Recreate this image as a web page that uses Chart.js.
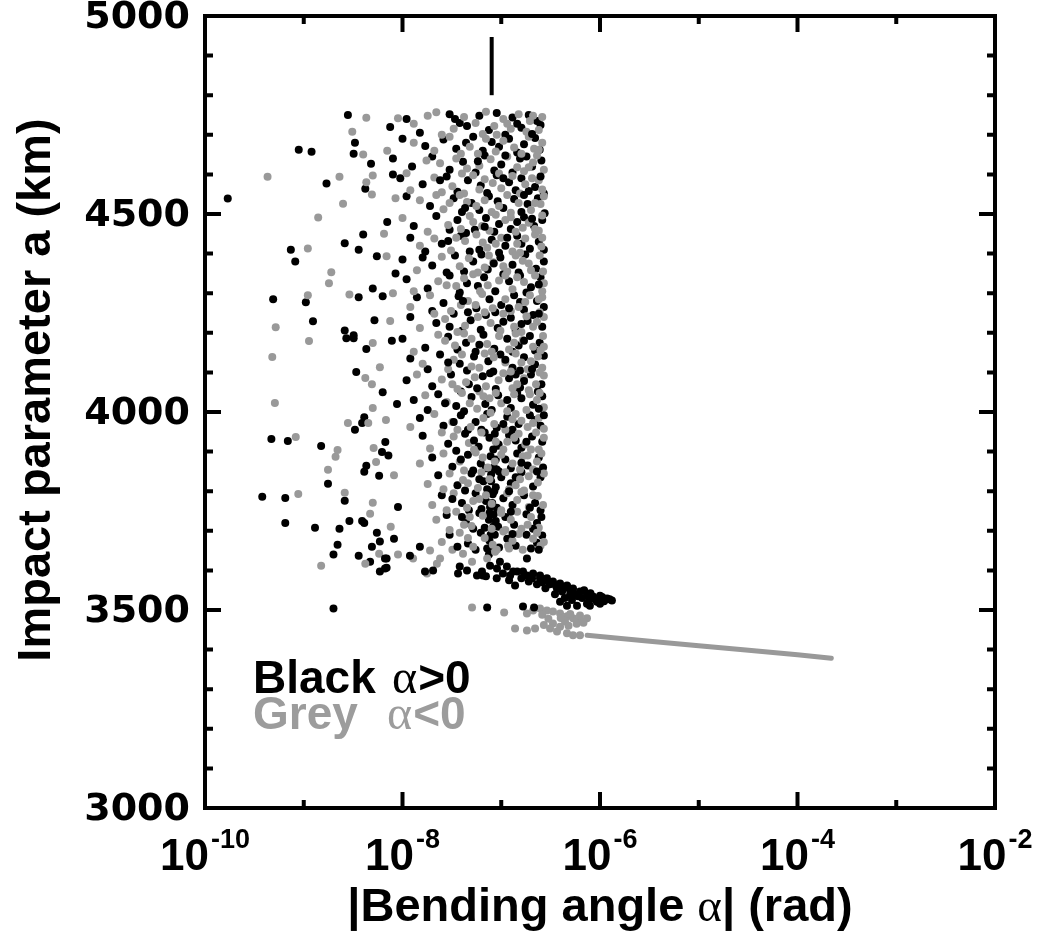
<!DOCTYPE html>
<html>
<head>
<meta charset="utf-8">
<title>Impact parameter vs bending angle</title>
<script src="https://cdn.jsdelivr.net/npm/chart.js@4.4.1/dist/chart.umd.min.js"></script>
<style>
  html, body { margin: 0; padding: 0; background: #fff; }
  canvas { display: block; }
</style>
</head>
<body>
<canvas id="chart" width="1046" height="940"></canvas>
<script>
// Ejes: alfa en escala log, a en km
const xTickExponents = [-10, -9, -8, -7, -6, -5, -4, -3, -2];
const yTicks = [3000, 3500, 4000, 4500, 5000];
const xTitle = ['|Bending angle ', 'α', '| (rad)'];
const yTitle = 'Impact parameter a (km)';

// [|alfa| (rad), a (km)] leidos del grafico
// alfa > 0, nube principal (por franjas de 50 km, de arriba abajo)
const blackCore = [
  [3.0e-8,4752],[6e-8,4748],[9e-8,4755],[1.3e-7,4744],[1.9e-7,4750],[2.3e-7,4735],[1.1e-8,4740],[4.5e-8,4722],[7.5e-8,4712],[1.6e-7,4718],[2.5e-7,4725],[1.5e-8,4705],[3.8e-8,4730],[1.1e-7,4700],
  [1.0e-8,4690],[2.6e-8,4688],[5.2e-8,4695],[8e-8,4682],[1.2e-7,4690],[1.7e-7,4676],[2.2e-7,4692],[3.5e-8,4665],[6.5e-8,4660],[9.5e-8,4670],[1.45e-7,4655],[2.45e-7,4662],[1.7e-8,4672],[4.4e-8,4680],
  [8e-9,4640],[2e-8,4645],[4.1e-8,4632],[6.8e-8,4648],[1e-7,4625],[1.55e-7,4640],[2.05e-7,4620],[2.55e-7,4635],[3e-8,4612],[5.5e-8,4605],[8.5e-8,4610],[1.3e-7,4605],[1.8e-7,4645],[1.25e-8,4620],
  [9.5e-9,4590],[1.6e-8,4575],[2.8e-8,4595],[4.6e-8,4585],[6.2e-8,4572],[9e-8,4598],[1.2e-7,4580],[1.6e-7,4590],[2.2e-7,4568],[2.7e-7,4552],[3.6e-8,4556],[7.2e-8,4553],[1.4e-7,4560],[1.9e-7,4558],
  [1.1e-8,4545],[1.9e-8,4520],[3.3e-8,4540],[5e-8,4528],[7.5e-8,4545],[1.05e-7,4515],[1.35e-7,4538],[1.85e-7,4525],[2.35e-7,4540],[2.75e-7,4502],[4e-8,4505],[6e-8,4510],[1.6e-7,4505],[9.2e-8,4532],
  [1.3e-8,4470],[2.2e-8,4495],[3.6e-8,4485],[5.4e-8,4460],[7e-8,4490],[9.5e-8,4475],[1.25e-7,4462],[1.7e-7,4492],[2.15e-7,4470],[2.6e-7,4485],[4.4e-8,4452],[8.5e-8,4455],[1.45e-7,4480],[3e-8,4460],
  [1.2e-8,4440],[2.5e-8,4425],[3.9e-8,4445],[6e-8,4410],[8e-8,4435],[1.1e-7,4420],[1.45e-7,4445],[1.95e-7,4412],[2.4e-7,4430],[4.8e-8,4405],[1.7e-8,4405],[9.5e-8,4402],[1.6e-7,4425],[2.7e-7,4410],
  [1e-8,4385],[2e-8,4370],[3.4e-8,4395],[5.2e-8,4380],[7.3e-8,4360],[9.8e-8,4390],[1.3e-7,4372],[1.75e-7,4398],[2.25e-7,4362],[2.7e-7,4380],[4.2e-8,4355],[6.3e-8,4398],[1.5e-7,4352],[2.8e-8,4352],
  [1.1e-8,4335],[1.8e-8,4312],[3e-8,4345],[4.5e-8,4325],[6.7e-8,4340],[8.7e-8,4305],[1.2e-7,4330],[1.55e-7,4345],[2e-7,4315],[2.5e-7,4340],[3.8e-8,4302],[1.05e-7,4348],[1.8e-7,4302],[5.8e-8,4318],
  [1.4e-8,4290],[2.6e-8,4275],[3.7e-8,4292],[5.6e-8,4262],[7.6e-8,4285],[1e-7,4270],[1.35e-7,4295],[1.7e-7,4258],[2.3e-7,4280],[2.7e-7,4265],[4.6e-8,4252],[8.7e-8,4252],[1.55e-7,4278],[2e-8,4255],
  [1.2e-8,4240],[2.2e-8,4225],[3.3e-8,4248],[4.9e-8,4232],[7e-8,4245],[9.2e-8,4212],[1.25e-7,4238],[1.6e-7,4222],[2.1e-7,4245],[2.6e-7,4215],[4e-8,4205],[6.2e-8,4208],[1.4e-7,4205],[1.85e-7,4230],
  [1e-8,4185],[1.7e-8,4162],[2.9e-8,4190],[4.4e-8,4175],[6.6e-8,4195],[8.5e-8,4160],[1.15e-7,4185],[1.5e-7,4168],[1.95e-7,4192],[2.45e-7,4175],[5.5e-8,4152],[1.3e-7,4152],[2.2e-7,4155],[3.6e-8,4158],
  [1.2e-8,4135],[2.4e-8,4145],[3.8e-8,4122],[5.3e-8,4140],[7.4e-8,4128],[9.8e-8,4145],[1.3e-7,4112],[1.7e-7,4138],[2.2e-7,4120],[2.7e-7,4142],[4.5e-8,4105],[8.3e-8,4102],[1.55e-7,4105],[1.8e-8,4108],
  [1.1e-8,4080],[2e-8,4065],[3.1e-8,4095],[4.7e-8,4070],[6.5e-8,4090],[8.8e-8,4058],[1.2e-7,4085],[1.55e-7,4062],[2e-7,4095],[2.55e-7,4070],[3.9e-8,4052],[7.7e-8,4098],[1.4e-7,4095],[2.35e-7,4052],
  [1.3e-8,4030],[2.3e-8,4045],[3.5e-8,4015],[5e-8,4038],[6.9e-8,4020],[9.3e-8,4042],[1.25e-7,4010],[1.6e-7,4035],[2.1e-7,4018],[2.6e-7,4040],[4.2e-8,4002],[8e-8,4005],[1.45e-7,4048],[1.8e-8,4005],
  [1.5e-8,3985],[2.6e-8,3965],[3.9e-8,3992],[5.5e-8,3975],[7.2e-8,3995],[9e-8,3960],[1.15e-7,3988],[1.5e-7,3970],[1.95e-7,3992],[2.5e-7,3965],[4.6e-8,3955],[6.3e-8,3955],[1.3e-7,3955],[2.2e-7,3980],
  [1.6e-8,3940],[2.9e-8,3920],[4.3e-8,3945],[5.9e-8,3912],[7.6e-8,3935],[9.4e-8,3918],[1.2e-7,3942],[1.6e-7,3910],[2.05e-7,3938],[2.6e-7,3925],[3.5e-8,3902],[8.3e-8,3905],[1.4e-7,3928],[6.8e-8,3948],
  [2e-8,3885],[3.2e-8,3862],[4.6e-8,3892],[6.2e-8,3870],[7.8e-8,3888],[9e-8,3855],[1.1e-7,3880],[1.45e-7,3895],[1.85e-7,3865],[2.4e-7,3885],[5.2e-8,3852],[7e-8,3858],[1.25e-7,3858],[2.65e-7,3860],
  [2.3e-8,3840],[3.6e-8,3815],[5e-8,3845],[6.6e-8,3825],[7.9e-8,3842],[8.8e-8,3810],[1e-7,3835],[1.25e-7,3820],[1.6e-7,3848],[2.1e-7,3812],[4.3e-8,3802],[7.2e-8,3805],[9.5e-8,3850],[2.5e-7,3835],
  [2.5e-8,3790],[4e-8,3770],[5.5e-8,3795],[7e-8,3775],[8.2e-8,3792],[9e-8,3758],[1.05e-7,3782],[1.3e-7,3765],[1.7e-7,3790],[2.2e-7,3770],[4.7e-8,3752],[6.3e-8,3755],[7.7e-8,3760],[2.5e-7,3752],
  [2.8e-8,3740],[4.4e-8,3720],[6e-8,3745],[7.5e-8,3728],[8.4e-8,3742],[9.3e-8,3710],[1.1e-7,3735],[1.35e-7,3715],[1.8e-7,3742],[2.3e-7,3720],[5.2e-8,3705],[6.8e-8,3708],[8.8e-8,3725],[2.55e-7,3735],
  [3e-8,3690],[4.6e-8,3668],[6.2e-8,3695],[7.6e-8,3675],[8.6e-8,3690],[9.5e-8,3658],[1.15e-7,3680],[1.4e-7,3662],[1.8e-7,3690],[2.3e-7,3670],[5.5e-8,3652],[7.2e-8,3655],[2e-7,3655],[2.6e-7,3688],
  // trazo oscuro cerca de 8e-8
  [7.5e-8,3640],[8e-8,3660],[7.8e-8,3690],[8.3e-8,3710],[7.6e-8,3745],[8.1e-8,3770],[8.5e-8,3800],[7.9e-8,3825],[8.4e-8,3860],[8.8e-8,3880],[9.2e-8,3915],[8.6e-8,3945],
];
// alfa > 0, huecos de la nube
const blackFill = [
  [3.4e-8,4740],[1.45e-7,4728],[2.05e-7,4702],[5.8e-8,4633],[1.1e-7,4648],[2.4e-8,4585],[1.05e-7,4590],[2.5e-7,4595],[4.3e-8,4515],
  [1.7e-7,4548],[2.9e-8,4432],[6.8e-8,4468],[1.15e-7,4440],[2.05e-7,4488],[1.6e-8,4390],[8.4e-8,4375],[2.4e-7,4322],[4.1e-8,4280],
  [1.2e-7,4262],[3e-8,4215],[1.05e-7,4228],[2.4e-7,4248],[6e-8,4170],[1.7e-7,4180],[2.9e-8,4125],[1.1e-7,4132],[2.05e-7,4108],
  [5.7e-8,4060],[1.7e-7,4078],[2.7e-8,4022],[1.15e-7,4030],[2.4e-7,4008],[3.3e-8,3975],[1.05e-7,3970],[2.7e-7,3992],[5.3e-8,3928],
  [1.8e-7,3925],[3.9e-8,3880],[1.6e-7,3872],[6e-8,3830],[1.4e-7,3835],[2.3e-7,3850],[3.2e-8,3780],[1.2e-7,3800],[1.95e-7,3758],
  [4e-8,3735],[1.25e-7,3748],[2.1e-7,3705],[3.6e-8,3660],[1.3e-7,3692],[2.4e-7,3652],
];

// alfa < 0, nube principal
const greyCore = [
  [2.2e-8,4757],[4.2e-8,4745],[7e-8,4758],[1.05e-7,4740],[1.5e-7,4752],[2.1e-7,4748],[2.6e-7,4745],[1.3e-8,4728],[3.3e-8,4715],[5.5e-8,4730],[8.5e-8,4722],[1.25e-7,4715],[1.8e-7,4708],[2.4e-7,4712],[9e-9,4742],[6.5e-8,4702],
  [1.3e-8,4680],[2.1e-8,4660],[3e-8,4695],[4.8e-8,4670],[7e-8,4690],[1.05e-7,4685],[1.35e-7,4668],[1.9e-7,4695],[2.6e-7,4680],[5.8e-8,4652],[8.8e-8,4658],[1.6e-7,4652],[2.15e-7,4665],[3.9e-8,4652],
  [1.1e-8,4603],[2.4e-8,4628],[3.5e-8,4640],[6e-8,4622],[7.8e-8,4638],[1.15e-7,4645],[1.45e-7,4618],[2.3e-7,4648],[2.7e-7,4612],[4.5e-8,4615],[9.5e-8,4602],[1.7e-7,4608],[1.75e-8,4635],[2.1e-7,4630],
  [1.2e-8,4560],[2.1e-8,4592],[3.2e-8,4570],[5.2e-8,4598],[6.8e-8,4588],[1.0e-7,4565],[1.3e-7,4596],[1.75e-7,4575],[2.4e-7,4585],[2.6e-7,4562],[4.2e-8,4552],[8.2e-8,4578],[1.55e-7,4552],[2.5e-8,4555],
  [1.5e-8,4535],[2.6e-8,4512],[3.8e-8,4548],[5.6e-8,4520],[8e-8,4505],[1.15e-7,4548],[1.5e-7,4528],[2e-7,4510],[2.5e-7,4525],[2.7e-7,4545],[4.5e-8,4530],[1.25e-7,4503],[6.8e-8,4535],[2.2e-8,4548],
  [1e-8,4490],[1.8e-8,4455],[2.9e-8,4472],[4.8e-8,4495],[6.4e-8,4470],[8.8e-8,4498],[1.1e-7,4485],[1.4e-7,4455],[1.9e-7,4478],[2.4e-7,4458],[2.6e-7,4496],[3.9e-8,4462],[1.65e-7,4465],[7.6e-8,4458],
  [1.5e-8,4420],[3.1e-8,4408],[4.3e-8,4432],[5.6e-8,4448],[7.2e-8,4415],[1e-7,4440],[1.3e-7,4405],[1.75e-7,4438],[2.2e-7,4448],[2.55e-7,4418],[2.1e-8,4438],[8.8e-8,4425],[1.55e-7,4402],[6.5e-8,4428],
  [1.4e-8,4358],[2.5e-8,4392],[3.8e-8,4368],[5.8e-8,4352],[8.3e-8,4378],[1.15e-7,4355],[1.4e-7,4395],[1.9e-7,4375],[2.45e-7,4395],[2.65e-7,4355],[4.7e-8,4388],[1.05e-7,4368],[1.65e-7,4382],[7.5e-8,4395],
  [1.3e-8,4305],[2.3e-8,4330],[3.5e-8,4318],[5.2e-8,4348],[7.3e-8,4320],[9.5e-8,4332],[1.3e-7,4310],[1.7e-7,4328],[2.2e-7,4345],[2.6e-7,4305],[4.2e-8,4338],[6.1e-8,4305],[1.45e-7,4340],[2.7e-7,4325],
  [1.2e-8,4265],[1.9e-8,4295],[3.1e-8,4255],[4.6e-8,4280],[6.4e-8,4298],[8.2e-8,4262],[1.1e-7,4285],[1.5e-7,4265],[1.95e-7,4295],[2.45e-7,4252],[2.6e-7,4290],[5.5e-8,4270],[1.25e-7,4255],[3.9e-8,4270],
  [1.5e-8,4212],[2.7e-8,4235],[4.3e-8,4218],[5.8e-8,4240],[7.8e-8,4225],[1.05e-7,4248],[1.35e-7,4215],[1.8e-7,4242],[2.3e-7,4228],[2.7e-7,4240],[3.6e-8,4202],[9.8e-8,4205],[1.6e-7,4202],[2.1e-8,4248],
  [1.3e-8,4152],[2.3e-8,4195],[3.4e-8,4168],[5e-8,4185],[7.2e-8,4172],[9.5e-8,4192],[1.2e-7,4158],[1.65e-7,4182],[2.1e-7,4165],[2.65e-7,4192],[4.2e-8,4198],[8e-8,4152],[1.4e-7,4198],[2.5e-7,4155],
  [1.6e-8,4122],[2.9e-8,4108],[4e-8,4145],[6e-8,4112],[8.4e-8,4138],[1.1e-7,4125],[1.4e-7,4148],[1.85e-7,4108],[2.35e-7,4140],[2.6e-7,4112],[3.3e-8,4132],[6.8e-8,4148],[1.25e-7,4102],[2e-7,4128],
  [1.4e-8,4095],[2.5e-8,4082],[3.6e-8,4058],[5.4e-8,4088],[7e-8,4065],[9.4e-8,4080],[1.3e-7,4060],[1.7e-7,4085],[2.25e-7,4070],[2.7e-7,4092],[4.4e-8,4075],[6e-8,4052],[1.05e-7,4098],[1.9e-7,4055],
  [1.7e-8,4042],[2.8e-8,4025],[4e-8,4048],[5.7e-8,4008],[7.6e-8,4035],[1e-7,4022],[1.35e-7,4045],[1.8e-7,4005],[2.3e-7,4030],[2.7e-7,4012],[4.8e-8,4022],[8.8e-8,4048],[1.15e-7,4002],[2.45e-7,4048],
  [1.2e-8,3962],[2.1e-8,3995],[3.2e-8,3975],[4.9e-8,3962],[6.6e-8,3985],[8.5e-8,3970],[1.1e-7,3955],[1.4e-7,3995],[1.85e-7,3962],[2.4e-7,3985],[2.7e-7,3958],[3.6e-8,3955],[7.8e-8,3998],[1.6e-7,3978],
  [1.9e-8,3908],[3.3e-8,3938],[4.7e-8,3922],[6.3e-8,3948],[8.8e-8,3925],[1.05e-7,3905],[1.35e-7,3935],[1.75e-7,3918],[2.25e-7,3948],[2.7e-7,3935],[2.5e-8,3948],[5.3e-8,3905],[1.5e-7,3945],[2.4e-7,3905],
  [1.5e-8,3870],[2.6e-8,3895],[3.8e-8,3875],[5.5e-8,3898],[7.3e-8,3860],[1e-7,3892],[1.3e-7,3870],[1.65e-7,3888],[2.1e-7,3855],[2.55e-7,3895],[4.2e-8,3852],[8.6e-8,3875],[1.55e-7,3855],[2.3e-7,3875],
  [1.8e-8,3818],[3e-8,3845],[4.1e-8,3828],[5.8e-8,3808],[7.6e-8,3830],[1.1e-7,3848],[1.4e-7,3815],[1.9e-7,3838],[2.35e-7,3822],[2.7e-7,3845],[2.6e-8,3805],[6.3e-8,3848],[1.7e-7,3802],[1.2e-7,3805],
  [2e-8,3765],[3.3e-8,3795],[4.5e-8,3758],[6e-8,3780],[8e-8,3768],[1.15e-7,3795],[1.45e-7,3778],[1.9e-7,3760],[2.35e-7,3788],[2.65e-7,3765],[2.8e-8,3752],[5.2e-8,3775],[1e-7,3752],[1.6e-7,3798],
  [2.2e-8,3728],[3.5e-8,3748],[5e-8,3712],[6.5e-8,3738],[8e-8,3705],[1e-7,3745],[1.25e-7,3728],[1.6e-7,3705],[2e-7,3735],[2.4e-7,3708],[3e-8,3702],[4.8e-8,3735],[1.45e-7,3748],[1.1e-7,3702],
  [2.5e-8,3672],[3.8e-8,3695],[5.2e-8,3660],[6.8e-8,3682],[8.2e-8,3665],[1.05e-7,3698],[1.3e-7,3675],[1.65e-7,3652],[2.1e-7,3680],[2.5e-7,3662],[3.2e-8,3652],[9e-8,3652],[1.5e-7,3692],[2.7e-7,3672],
];
// alfa < 0, huecos de la nube
const greyFill = [
  [1.8e-8,4748],[1.15e-7,4728],[1.95e-7,4735],[2.5e-8,4700],[9e-8,4700],[2.4e-7,4662],[4e-8,4602],[1.9e-7,4618],[6e-8,4562],
  [2.05e-7,4590],[3e-8,4528],[9.5e-8,4520],[2.2e-7,4528],[5.2e-8,4480],[1.25e-7,4492],[2.2e-7,4462],[3.5e-8,4440],[1.45e-7,4425],
  [2.6e-7,4440],[6.8e-8,4365],[2e-7,4358],[2.8e-8,4320],[1.1e-7,4345],[2.4e-7,4285],[6.8e-8,4252],[1.75e-7,4278],[2.1e-7,4215],
  [2.7e-8,4180],[1.35e-7,4175],[2.7e-7,4165],[5e-8,4115],[1.6e-7,4125],[3.2e-8,4070],[1.45e-7,4070],[2.45e-7,4100],[6.6e-8,4040],
  [1.95e-7,4045],[1.3e-7,3982],[2.1e-7,3972],[1.15e-7,3925],[2e-7,3905],[6.5e-8,3885],[1.85e-7,3890],[4.6e-8,3820],[1.55e-7,3830],
  [7e-8,3790],[2.1e-7,3790],[4.2e-8,3715],[1.85e-7,3715],[4.6e-8,3682],[1.2e-7,3655],[2.3e-7,3695],
];

// puntos dispersos a la izquierda
const blackSparse = [
  [2.8e-9,4750],[8.9e-10,4662],[1.2e-9,4657],[1.7e-10,4539],[1.7e-9,4577],[3.3e-9,4680],[3.2e-9,4652],[4.8e-9,4627],[4.2e-9,4564],
  [4e-9,4448],[2.6e-9,4426],[3.6e-9,4410],[7.4e-10,4410],[8.2e-10,4380],[1.05e-9,4277],[4.9e-10,4285],[3.6e-9,4290],[5.5e-9,4393],
  [5e-9,4312],[6.3e-9,4292],[1.24e-9,4229],[4.7e-10,3932],[6.9e-10,3927],[3.8e-10,3786],[6.5e-10,3783],[6.5e-10,3720],[1.3e-9,3708],
  [2e-9,3504],[1.5e-9,3914],[1.76e-9,3819],[2.6e-9,3776],[2.3e-9,3705],[2.2e-9,3665],[2e-9,3640],[2.9e-9,3725],[3.6e-9,3637],
  [3.9e-9,3725],[4.1e-9,3720],[4.7e-9,3622],[4.9e-9,3660],[5.5e-9,3695],[5.9e-9,3673],[5.9e-9,3597],[6.9e-9,3630],[6.9e-9,3607],
  [4.3e-9,3864],[4.1e-9,3849],[5.8e-9,3839],[6.2e-9,3899],[6.7e-9,3924],[3.3e-9,3955],[3.9e-9,3972],[4.1e-9,3987],[3.4e-9,4101],
  [6.3e-9,4050],[4.3e-9,4159],[2.6e-9,4206],[2.7e-9,4186],[3.2e-9,4194],[3.2e-9,4186],[5.2e-9,4232],
  [7.5e-9,4720],[8e-9,4600],[7e-9,4480],[8.5e-9,4350],[7.8e-9,4180],[8.8e-9,4020],[7.2e-9,3890],[9e-9,3760],[8.2e-9,3680],
];
const greySparse = [
  [4.3e-9,4743],[3.1e-9,4708],[4.3e-10,4594],[2.3e-9,4594],[2.5e-9,4526],[1.4e-9,4491],[4e-9,4650],[5e-9,4597],[4.3e-9,4580],
  [4.9e-9,4549],[1.1e-9,4413],[1.9e-9,4353],[1.8e-9,4325],[1.1e-9,4295],[2.9e-9,4297],[6.9e-9,4393],[5.2e-10,4214],[4.8e-10,4139],
  [5.1e-10,4023],[8.3e-10,3937],[8.8e-10,3793],[1.5e-9,3612],[1.13e-9,4179],[1.76e-9,3854],[2.1e-9,3887],[2.2e-9,3904],[2.6e-9,3796],
  [4.2e-9,3617],[5.8e-9,3642],[4.7e-9,3743],[5e-9,3771],[5.4e-9,3874],[5.1e-9,3909],[2.8e-9,3972],[4.5e-9,3972],[5e-9,4010],
  [4.2e-9,4086],[4.9e-9,4070],[5e-9,4174],[5.9e-9,4113],
  [7e-9,4660],[8.5e-9,4540],[6.5e-9,4450],[8e-9,4300],[7.5e-9,4230],[6.8e-9,3980],[8.2e-9,3840],[7.6e-9,3710],[9e-9,3640],
];

// zona baja: gancho de alfa > 0 hacia 1e-6
const blackHook = [
  [6.65e-9,3630],[6.65e-9,3605],[1.19e-8,3637],[1.5e-8,3660],[1.69e-8,3597],[2.04e-8,3600],
  [3.65e-8,3592],[3.8e-8,3610],[4.5e-8,3600],[5.68e-8,3587],[6.38e-8,3597],[6.5e-8,3587],[7.7e-8,3612],[9.06e-8,3605],
  [9.7e-8,3622],[1.04e-7,3592],[1.14e-7,3610],[1.23e-7,3587],[1.32e-7,3597],[1.45e-7,3597],[1.66e-7,3597],[1.82e-7,3630],
  [1.82e-7,3587],[2.05e-7,3580],[2.1e-7,3592],[2.47e-7,3580],[2.47e-7,3587],[2.9e-7,3575],[2.9e-7,3580],[3.34e-7,3572],
  [3.34e-7,3567],[3.94e-7,3567],[3.94e-7,3562],[4.63e-7,3562],[4.63e-7,3560],[5.33e-7,3554],[6.27e-7,3547],[7.38e-7,3537],
  [8.5e-7,3534],[1e-6,3529],[1e-6,3536],[1.18e-6,3529],[1.32e-6,3524],[9.3e-7,3521],[7.38e-7,3516],[5.85e-7,3511],
  [4.63e-7,3511],[3.94e-7,3521],[3.67e-7,3554],[4.13e-7,3547],[4.97e-7,3537],[1.38e-7,3562],[7.9e-7,3511],[1e-6,3516],
  [7.2e-8,3506],[1.66e-7,3509],[2.15e-7,3506],
  [2.6e-7,3570],[3.1e-7,3565],[3.6e-7,3560],[4.3e-7,3555],[5e-7,3548],[5.6e-7,3540],[6.6e-7,3530],[7.8e-7,3525],
  [9e-7,3527],[1.1e-6,3522],[1.25e-6,3527],[1.05e-6,3533],[8e-7,3542],[6.9e-7,3550],[6e-7,3535],[5.2e-7,3525],
  [4.4e-7,3530],[3.5e-7,3540],[2.8e-7,3555],[2.3e-7,3565],[1.9e-7,3572],[1.6e-7,3580],[1.2e-7,3575],[9e-8,3580],[7e-8,3585],
];

// zona baja: alfa < 0 bajo el gancho
const greyHook = [
  [1.82e-7,3491],[2.1e-7,3499],[2.47e-7,3504],[2.9e-7,3499],[3.34e-7,3496],[3.94e-7,3491],[4.63e-7,3484],[5.33e-7,3479],
  [6.27e-7,3474],[7.38e-7,3479],[6.27e-7,3486],[3.34e-7,3466],[3.94e-7,3458],[3.12e-7,3453],[3.67e-7,3446],[4.63e-7,3441],
  [5.33e-7,3436],[6.27e-7,3436],[1.38e-7,3453],[1.82e-7,3448],[2.2e-7,3453],[4.42e-7,3471],
  [5.06e-8,3506],[1.07e-7,3494],
  [1.9e-8,3650],[1.77e-8,3592],[2.23e-8,3617],[2.4e-8,3630],[4.1e-8,3642],[5.06e-8,3622],[7.2e-8,3630],[8.65e-8,3647],
  [1.17e-7,3662],[1.28e-8,3630],
  [4e-7,3480],[5e-7,3490],[2.6e-7,3488],[3e-7,3478],[5.8e-7,3465],[4.8e-7,3460],[2.7e-7,3462],[6.8e-7,3468],
];

// cola gris casi recta hasta 2e-4
const greyTail = [[7.4e-7,3436],[1e-6,3433],[3e-6,3422],[1e-5,3410],[3e-5,3399],[1e-4,3387],[2.2e-4,3378]];

// marca vertical arriba
const marker = [[8e-8,4800],[8e-8,4947]];

const BLACK = '#000000';
const GREY = '#999999';

const pts = (arr) => arr.map(([x, y]) => ({ x, y }));

function dots(data, color) {
  return {
    data: pts(data),
    backgroundColor: color,
    borderWidth: 0,
    pointRadius: 4,
    pointHoverRadius: 4,
  };
}

const SANS = '"Liberation Sans", Arial, sans-serif';
const SERIF = '"Liberation Serif", "Times New Roman", serif';

// Marco, ticks hacia dentro, rotulos y leyenda
const decorations = {
  id: 'decorations',
  afterDraw(chart) {
    const { ctx, chartArea: a, scales: { x, y } } = chart;
    ctx.save();
    ctx.strokeStyle = '#000';
    ctx.fillStyle = '#000';
    ctx.lineWidth = 4;
    ctx.strokeRect(a.left, a.top, a.right - a.left, a.bottom - a.top);

    ctx.beginPath();
    for (let v = y.min; v <= y.max; v += 100) {
      const py = y.getPixelForValue(v);
      const len = yTicks.includes(v) ? 16 : 8;
      ctx.moveTo(a.left, py); ctx.lineTo(a.left + len, py);
      ctx.moveTo(a.right, py); ctx.lineTo(a.right - len, py);
    }
    xTickExponents.forEach((e) => {
      const px = x.getPixelForValue(Math.pow(10, e));
      const len = e % 2 === 0 ? 16 : 8;
      ctx.moveTo(px, a.bottom); ctx.lineTo(px, a.bottom - len);
      ctx.moveTo(px, a.top); ctx.lineTo(px, a.top + len);
    });
    ctx.stroke();

    // rotulos eje y
    ctx.font = 'bold 38px "DejaVu Sans", sans-serif';
    ctx.textAlign = 'right';
    ctx.textBaseline = 'middle';
    yTicks.forEach((v) => ctx.fillText(String(v), a.left - 15, y.getPixelForValue(v) + 2));

    // rotulos eje x: 10 con exponente
    ctx.textAlign = 'left';
    ctx.textBaseline = 'alphabetic';
    xTickExponents.filter((e) => e % 2 === 0).forEach((e) => {
      const px = x.getPixelForValue(Math.pow(10, e));
      ctx.font = `bold 44px ${SANS}`;
      const wb = ctx.measureText('10').width;
      ctx.font = `bold 27px ${SANS}`;
      const sup = String(e);
      const ws = ctx.measureText(sup).width;
      const x0 = px - (wb + ws + 2) / 2;
      ctx.font = `bold 44px ${SANS}`;
      ctx.fillText('10', x0, a.bottom + 62);
      ctx.font = `bold 27px ${SANS}`;
      ctx.fillText(sup, x0 + wb + 2, a.bottom + 40);
    });

    // titulo x (alfa en serif)
    const parts = [[xTitle[0], `bold 47px ${SANS}`], [xTitle[1], `47px ${SERIF}`], [xTitle[2], `bold 47px ${SANS}`]];
    let total = 0;
    parts.forEach(([t, f]) => { ctx.font = f; total += ctx.measureText(t).width; });
    let cx = (a.left + a.right) / 2 - total / 2;
    parts.forEach(([t, f]) => { ctx.font = f; ctx.fillText(t, cx, a.bottom + 113); cx += ctx.measureText(t).width; });

    // titulo y
    ctx.save();
    ctx.translate(50, 390);
    ctx.rotate(-Math.PI / 2);
    ctx.textAlign = 'center';
    ctx.font = `bold 47px ${SANS}`;
    ctx.fillText(yTitle, 0, 0);
    ctx.restore();

    // leyenda en texto
    const legend = [
      { color: BLACK, word: 'Black', sym: '>0', top: 693, alphaX: 392 },
      { color: '#9c9c9c', word: 'Grey', sym: '<0', top: 729, alphaX: 387 },
    ];
    legend.forEach((l) => {
      ctx.fillStyle = l.color;
      ctx.font = `bold 46px ${SANS}`;
      ctx.fillText(l.word, 253, l.top);
      ctx.font = `48px ${SERIF}`;
      ctx.fillText('α', l.alphaX, l.top);
      const wa = ctx.measureText('α').width;
      ctx.font = `bold 46px ${SANS}`;
      ctx.fillText(l.sym, l.alphaX + wa + 1, l.top);
    });
    ctx.restore();
  },
};

new Chart(document.getElementById('chart'), {
  type: 'scatter',
  data: {
    datasets: [
      { data: pts(marker), showLine: true, borderColor: BLACK, borderWidth: 4, pointRadius: 0 },
      { data: pts(greyTail), showLine: true, borderColor: GREY, borderWidth: 5, borderCapStyle: 'round', pointRadius: 0 },
      dots(blackHook, BLACK),
      dots(greyHook, GREY),
      dots(greyFill, GREY),
      dots(blackFill, BLACK),
      dots(greyCore, GREY),
      dots(blackCore, BLACK),
      dots(greySparse, GREY),
      dots(blackSparse, BLACK),
    ],
  },
  options: {
    responsive: false,
    animation: false,
    events: [],
    layout: { padding: { left: 205, right: 51, top: 16, bottom: 132 } },
    plugins: { legend: { display: false }, tooltip: { enabled: false } },
    scales: {
      x: { type: 'logarithmic', min: 1e-10, max: 1e-2, display: false },
      y: { type: 'linear', min: 3000, max: 5000, display: false },
    },
  },
  plugins: [decorations],
});
</script>
</body>
</html>
